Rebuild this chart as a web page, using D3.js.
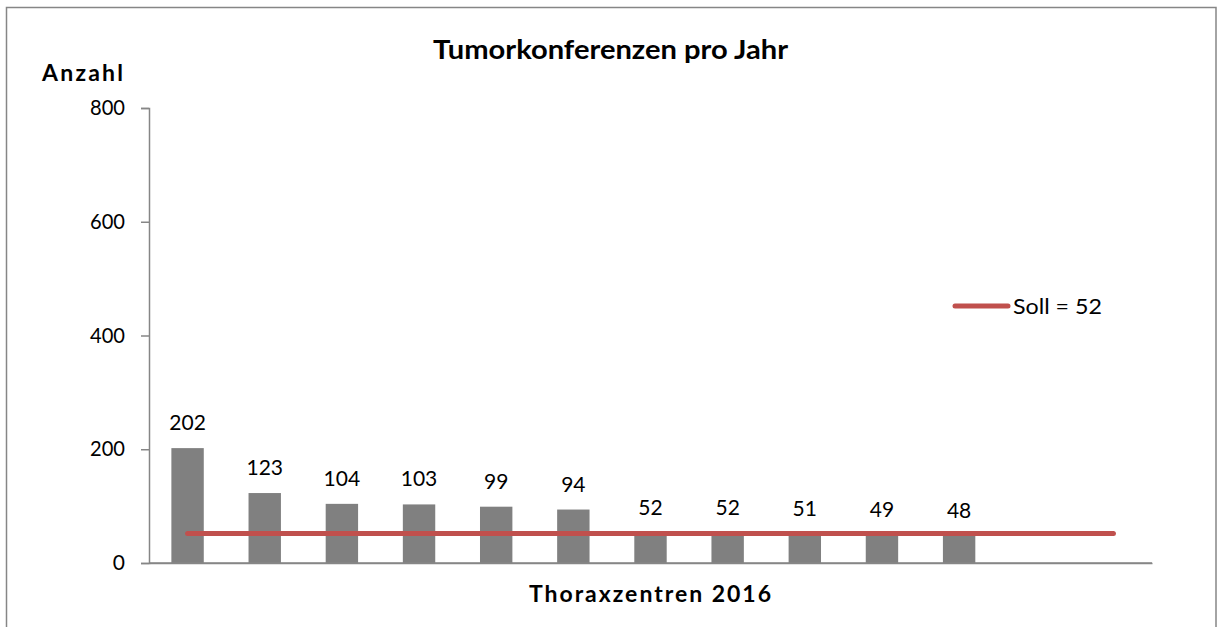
<!DOCTYPE html>
<html>
<head>
<meta charset="utf-8">
<script src="https://cdn.jsdelivr.net/npm/d3@7"></script>
<style>
  body { margin: 0; background: #fff; }
  svg { display: block; }
  text { font-family: Lato, "Noto Sans", sans-serif; fill: #000; }
</style>
</head>
<body>
<svg id="chart" width="1222" height="627"></svg>
<script>
// ---- data ----
const categories = ["Z1","Z2","Z3","Z4","Z5","Z6","Z7","Z8","Z9","Z10","Z11","Z12","Z13"];
const counts = [202, 123, 104, 103, 99, 94, 52, 52, 51, 49, 48, null, null];
const soll = [52, 52, 52, 52, 52, 52, 52, 52, 52, 52, 52, 52, 52];
const yTicks = [0, 200, 400, 600, 800];
const title = "Tumorkonferenzen pro Jahr";
const yTitle = "Anzahl";
const xTitle = "Thoraxzentren 2016";
const legendLabel = "Soll = 52";

// ---- layout ----
const plot = { left: 149, right: 1152, top: 108, bottom: 563 };
const axisColor = "#868686";
const barColor = "#808080";
const lineColor = "#C0504D";

const svg = d3.select("#chart");

// outer frame
svg.append("rect")
  .attr("x", 6.5).attr("y", 7.5)
  .attr("width", 1209.5).attr("height", 640)
  .attr("fill", "#fff")
  .attr("stroke", axisColor).attr("stroke-width", 1.5);

const x = d3.scaleBand()
  .domain(categories)
  .range([plot.left, plot.right])
  .paddingInner(0.58)
  .paddingOuter(0.29);

const y = d3.scaleLinear().domain([0, 800]).range([plot.bottom, plot.top]);

// y axis
const yAxis = d3.axisLeft(y).tickValues(yTicks).tickSize(8).tickPadding(16).tickFormat(d3.format("d"));
const gy = svg.append("g").attr("transform", `translate(${plot.left},0)`).call(yAxis);
gy.select(".domain").attr("stroke", axisColor).attr("stroke-width", 1.5);
gy.selectAll(".tick line").attr("stroke", axisColor).attr("stroke-width", 1.5);
gy.selectAll(".tick text").attr("font-size", 21).attr("font-family", "Lato, sans-serif").attr("fill", "#000")
  .attr("textLength", 35).attr("lengthAdjust", "spacingAndGlyphs")
  .each(function(d) { if (String(d).length === 1) d3.select(this).attr("textLength", null); });

// x axis (no ticks, no labels)
const xAxis = d3.axisBottom(x).tickSize(0).tickFormat("");
const gx = svg.append("g").attr("transform", `translate(0,${plot.bottom})`).call(xAxis);
gx.select(".domain").attr("stroke", axisColor).attr("stroke-width", 1.5);

// bars
const barData = categories.map((c, i) => ({ c, v: counts[i] })).filter(d => d.v != null);
svg.append("g").selectAll("rect").data(barData).join("rect")
  .attr("x", d => x(d.c))
  .attr("width", x.bandwidth())
  .attr("y", d => y(d.v))
  .attr("height", d => y(0) - y(d.v))
  .attr("fill", barColor);

// x axis line over bars
svg.append("line")
  .attr("x1", plot.left).attr("x2", plot.right)
  .attr("y1", plot.bottom).attr("y2", plot.bottom)
  .attr("stroke", axisColor).attr("stroke-width", 1.5);

// value labels
svg.append("g").selectAll("text").data(barData).join("text")
  .attr("x", d => x(d.c) + x.bandwidth() / 2)
  .attr("y", d => y(d.v) - 18)
  .attr("text-anchor", "middle")
  .attr("font-size", 21)
  .text(d => d.v);

// soll line
const line = d3.line()
  .x((d, i) => x(categories[i]) + x.bandwidth() / 2)
  .y(d => y(d));
svg.append("path")
  .datum(soll)
  .attr("d", line)
  .attr("fill", "none")
  .attr("stroke", lineColor)
  .attr("stroke-width", 5)
  .attr("stroke-linecap", "round");

// legend
svg.append("line")
  .attr("x1", 955).attr("x2", 1008)
  .attr("y1", 306).attr("y2", 306)
  .attr("stroke", lineColor).attr("stroke-width", 5).attr("stroke-linecap", "round");
svg.append("text")
  .attr("x", 1013).attr("y", 306).attr("dy", "0.36em")
  .attr("font-size", 22)
  .attr("textLength", 89).attr("lengthAdjust", "spacingAndGlyphs")
  .text(legendLabel);

// titles
svg.append("text")
  .attr("x", 433).attr("y", 59)
  .attr("font-size", 27).attr("font-weight", "bold")
  .attr("textLength", 355).attr("lengthAdjust", "spacingAndGlyphs")
  .text(title);

svg.append("text")
  .attr("x", 42).attr("y", 81)
  .attr("font-size", 23).attr("font-weight", "bold")
  .attr("textLength", 81).attr("lengthAdjust", "spacing")
  .text(yTitle);

svg.append("text")
  .attr("x", 529).attr("y", 602)
  .attr("font-size", 23).attr("font-weight", "bold")
  .attr("textLength", 242).attr("lengthAdjust", "spacing")
  .text(xTitle);
</script>
</body>
</html>
